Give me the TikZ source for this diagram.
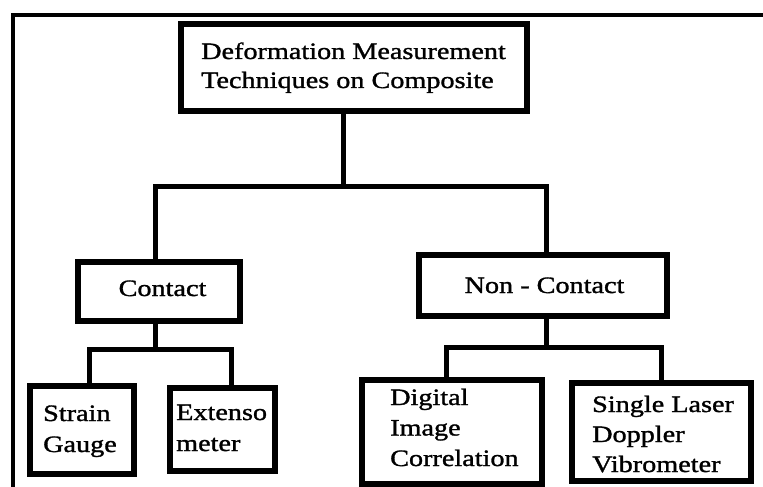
\documentclass[tikz,border=0pt]{standalone}
\usepackage{fontspec}
\setmainfont{Liberation Serif}[FakeStretch=1.2,FakeBold=1.3]
\begin{document}
\begin{tikzpicture}[x=1pt,y=-1pt,
  box/.style={draw=black,line width=5.5pt,fill=white,inner sep=0pt,anchor=center},
  lbl/.style={inner sep=0pt,align=left,font=\fontsize{23.5}{30}\selectfont,text=black},
  conn/.style={draw=black,line width=5pt,line join=miter},
  frame/.style={draw=black,line width=4pt,line join=miter}]
\useasboundingbox (0,0) rectangle (763,487);
\fill[white] (0,0) rectangle (763,487);
\draw[frame] (12.5,490) -- (12.5,15.5) -- (765,15.5);
% junction coordinates
\coordinate (j1) at (343,186);
\coordinate (jl) at (155,186);
\coordinate (jr) at (546,186);
\coordinate (c0) at (155,349);
\coordinate (c1) at (89,349);
\coordinate (c2) at (231,349);
\coordinate (n0) at (546,347);
\coordinate (n1) at (446,347);
\coordinate (n2) at (661,347);
% boxes
\node[box,minimum width=346pt,minimum height=87pt] (top) at (354,67.5) {};
\node[box,minimum width=162pt,minimum height=59pt] (contact) at (159,291.5) {};
\node[box,minimum width=248pt,minimum height=61pt] (noncontact) at (543,285.5) {};
\node[box,minimum width=104pt,minimum height=88pt] (strain) at (82,430) {};
\node[box,minimum width=105pt,minimum height=83pt] (ext) at (222.5,429.5) {};
\node[box,minimum width=180pt,minimum height=104pt] (dic) at (452,432) {};
\node[box,minimum width=179pt,minimum height=98pt] (sldv) at (661.5,432) {};
% connectors
\draw[conn] (j1 |- top.south) -- (j1);
\draw[conn] (jl |- contact.north) -- (jl) -- (jr) -- (jr |- noncontact.north);
\draw[conn] (c0 |- contact.south) -- (c0);
\draw[conn] (c1 |- strain.north) -- (c1) -- (c2) -- (c2 |- ext.north);
\draw[conn] (n0 |- noncontact.south) -- (n0);
\draw[conn] (n1 |- dic.north) -- (n1) -- (n2) -- (n2 |- sldv.north);
% texts (multi-line: base = last line)
\node[lbl,anchor=base west,font=\fontsize{23.5}{29}\selectfont] (ttop) at (201,88) {Deformation Measurement\\Techniques on Composite};
\node[lbl,anchor=base] (tcontact) at (162.5,296) {Contact};
\node[lbl,anchor=base] (tnoncontact) at (544.5,293) {Non - Contact};
\node[lbl,anchor=base west,font=\fontsize{23.5}{31}\selectfont] (tstrain) at (43,452) {Strain\\Gauge};
\node[lbl,anchor=base west,font=\fontsize{23.5}{31}\selectfont] (text) at (176,451) {Extenso\\meter};
\node[lbl,anchor=base west,font=\fontsize{23.5}{30.5}\selectfont] (tdic) at (390,466) {Digital\\Image\\Correlation};
\node[lbl,anchor=base west] (tsldv) at (592,472) {Single Laser\\Doppler\\Vibrometer};
\end{tikzpicture}
\end{document}
